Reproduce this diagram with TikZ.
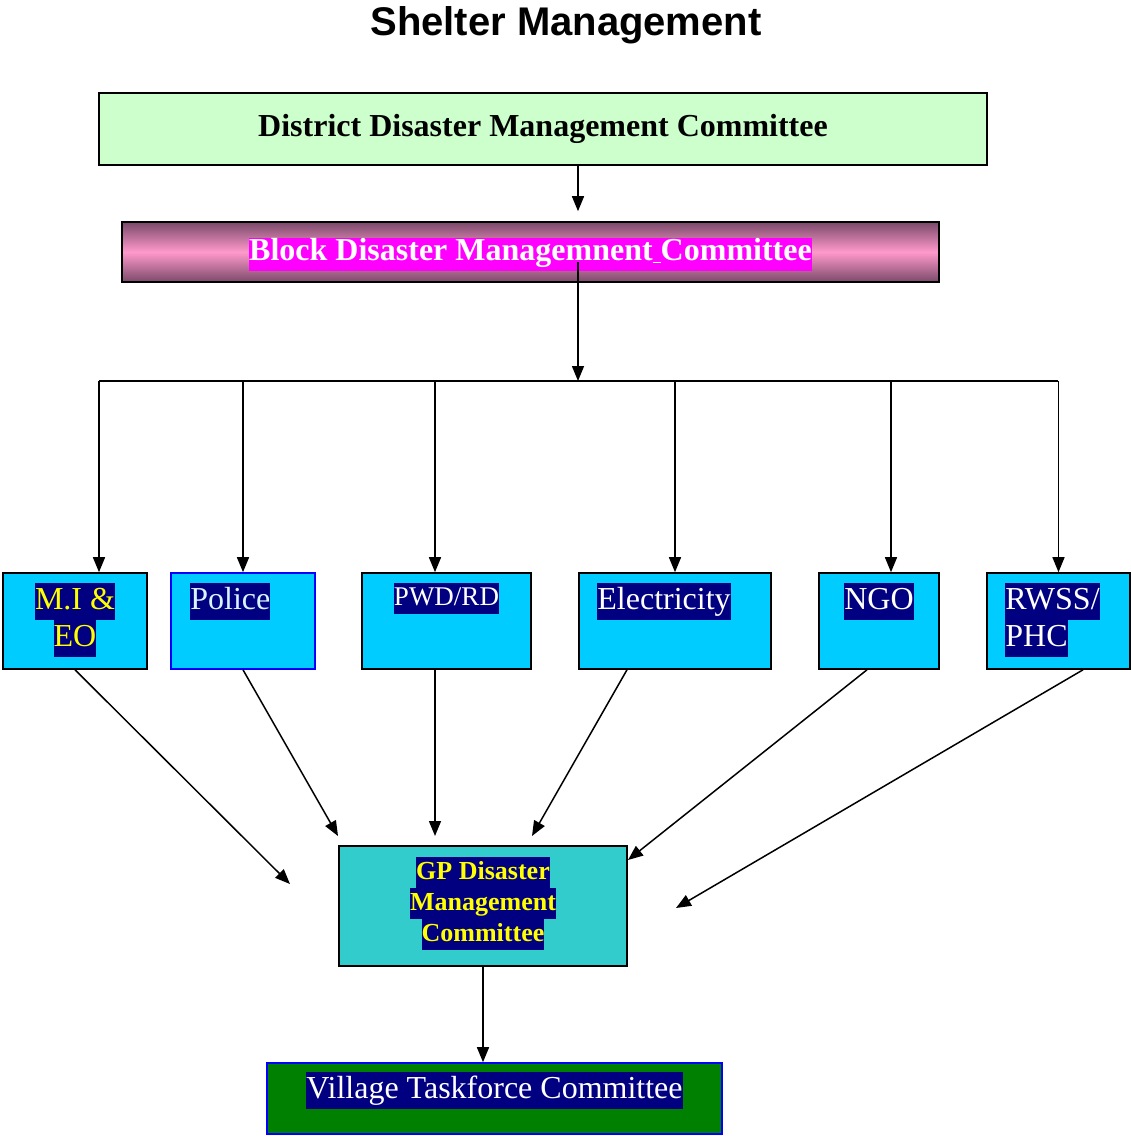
\documentclass[tikz,border=0pt]{standalone}
\usepackage{fontspec}
\setmainfont{Liberation Serif}
\newfontfamily\titlefont{Liberation Sans}
\usetikzlibrary{arrows.meta,positioning,calc}
\usepackage{xcolor}

\definecolor{paleGreen}{HTML}{CCFFCC}
\definecolor{mauveDark}{HTML}{7A4A6A}
\definecolor{pinkLight}{HTML}{FF99CC}
\definecolor{hotMagenta}{HTML}{FF00FF}
\definecolor{skyCyan}{HTML}{00CCFF}
\definecolor{gpTeal}{HTML}{33CCCC}
\definecolor{leafGreen}{HTML}{008000}
\definecolor{navyBg}{HTML}{000080}
\definecolor{lemon}{HTML}{FFFF00}
\definecolor{paleCyan}{HTML}{D8F4FF}
\definecolor{pureBlue}{HTML}{0000FF}

% highlighted text line
\newcommand{\hlbox}[2]{{\setlength{\fboxsep}{0pt}\colorbox{#1}{\strut #2}}}

\begin{document}
\begin{tikzpicture}[x=1pt,y=-1pt,
    box/.style={draw=black, line width=1.6pt, inner sep=0pt},
    arr/.style={-{Triangle[length=15pt,width=12pt]}, line width=1.5pt},
    lbl/.style={inner sep=0pt, font=\fontsize{32}{37}\selectfont, text=white}]

    \useasboundingbox (0,0) rectangle (1131,1136);

    % Title
    \node (title) at (566,25) {\titlefont\bfseries\fontsize{40}{44}\selectfont Shelter Management};

    % District and block committees
    \node[box, fill=paleGreen, minimum width=888, minimum height=72] (ddmc) at (543,129)
        {\bfseries\fontsize{32}{37}\selectfont District Disaster Management Committee};
    \node[box, top color=mauveDark, bottom color=mauveDark, middle color=pinkLight,
          minimum width=817, minimum height=60] (bdmc) at (530.5,252) {};
    \node[inner sep=0pt] (bdmclbl) at ($(bdmc.center)+(0,2)$)
        {\bfseries\fontsize{32}{33}\selectfont\hlbox{hotMagenta}{\textcolor{white}{Block Disaster Managemnent\underline{\ }Committee}}};

    % Line departments
    \node[box, fill=skyCyan, minimum width=144, minimum height=96] (mi) at (75,621) {};
    \node[box, draw=pureBlue, fill=skyCyan, minimum width=144, minimum height=96] (police) at (243,621) {};
    \node[box, fill=skyCyan, minimum width=169, minimum height=96] (pwd) at (446.5,621) {};
    \node[box, fill=skyCyan, minimum width=192, minimum height=96] (elec) at (675,621) {};
    \node[box, fill=skyCyan, minimum width=120, minimum height=96] (ngo) at (879,621) {};
    \node[box, fill=skyCyan, minimum width=143, minimum height=96] (rwss) at (1058.5,621) {};

    \node[lbl, text=lemon, align=center, anchor=north] (milbl) at ($(mi.north)+(0,11)$)
        {\hlbox{navyBg}{M.I \&}\\\hlbox{navyBg}{EO}};
    \node[lbl, text=paleCyan, anchor=north west] (policelbl) at ($(police.north west)+(20,11)$)
        {\hlbox{navyBg}{Police}};
    \node[lbl, font=\fontsize{27}{31}\selectfont, anchor=north] (pwdlbl) at ($(pwd.north)+(0,11)$)
        {\hlbox{navyBg}{PWD/RD}};
    \node[lbl, anchor=north west] (eleclbl) at ($(elec.north west)+(19,11)$)
        {\hlbox{navyBg}{Electricity}};
    \node[lbl, anchor=north] (ngolbl) at ($(ngo.north)+(0,11)$)
        {\hlbox{navyBg}{NGO}};
    \node[lbl, align=left, anchor=north west] (rwsslbl) at ($(rwss.north west)+(19,11)$)
        {\hlbox{navyBg}{RWSS/}\\\hlbox{navyBg}{PHC}};

    % GP and village committees
    \node[box, fill=gpTeal, minimum width=288, minimum height=120] (gp) at (483,906) {};
    \node[lbl, text=lemon, align=center, anchor=north, font=\bfseries\fontsize{26}{31}\selectfont]
        (gplbl) at ($(gp.north)+(0,12)$)
        {\hlbox{navyBg}{GP Disaster}\\\hlbox{navyBg}{Management}\\\hlbox{navyBg}{Committee}};
    \node[box, draw=pureBlue, fill=leafGreen, minimum width=455, minimum height=71] (village) at (494.5,1098.5) {};
    \node[lbl, anchor=north] (villagelbl) at ($(village.north)+(0,10)$)
        {\hlbox{navyBg}{Village Taskforce Committee}};

    % Connectors from the top
    \coordinate (ddmcOut) at ($(ddmc.south)+(35,0)$);
    \coordinate (bdmcIn) at ($(bdmc.north)+(47.5,-10)$);
    \draw[arr] (ddmcOut) -- (bdmcIn);
    \coordinate (busL) at (99,381);
    \coordinate (busR) at (1058,381);
    \coordinate (bdmcOut) at ($(bdmc.center)+(47.5,10)$);
    \draw[line width=1.5pt] (busL) -- (busR);
    \draw[arr] (bdmcOut) -- (bdmcOut |- busL);
    \foreach \n/\dx in {mi/24, police/0, pwd/-11.5, elec/0, ngo/12, rwss/0} {
        \coordinate (in\n) at ($(\n.north)+(\dx,0)$);
        \draw[arr] (in\n |- busL) -- (in\n);
    }

    % Connectors down to the GP committee
    \coordinate (gpA) at (290,884);
    \coordinate (gpB) at (338,836);
    \coordinate (gpC) at (435,836);
    \coordinate (gpD) at (532,836);
    \coordinate (gpE) at (628,860);
    \coordinate (gpF) at (676,908);
    \draw[arr] (mi.south) -- (gpA);
    \draw[arr] (police.south) -- (gpB);
    \draw[arr] ($(pwd.south)+(-11.5,0)$) -- (gpC);
    \draw[arr] ($(elec.south)+(-48,0)$) -- (gpD);
    \draw[arr] ($(ngo.south)+(-12,0)$) -- (gpE);
    \draw[arr] ($(rwss.south)+(24.5,0)$) -- (gpF);
    \draw[arr] (gp.south) -- (gp.south |- village.north);
\end{tikzpicture}
\end{document}
